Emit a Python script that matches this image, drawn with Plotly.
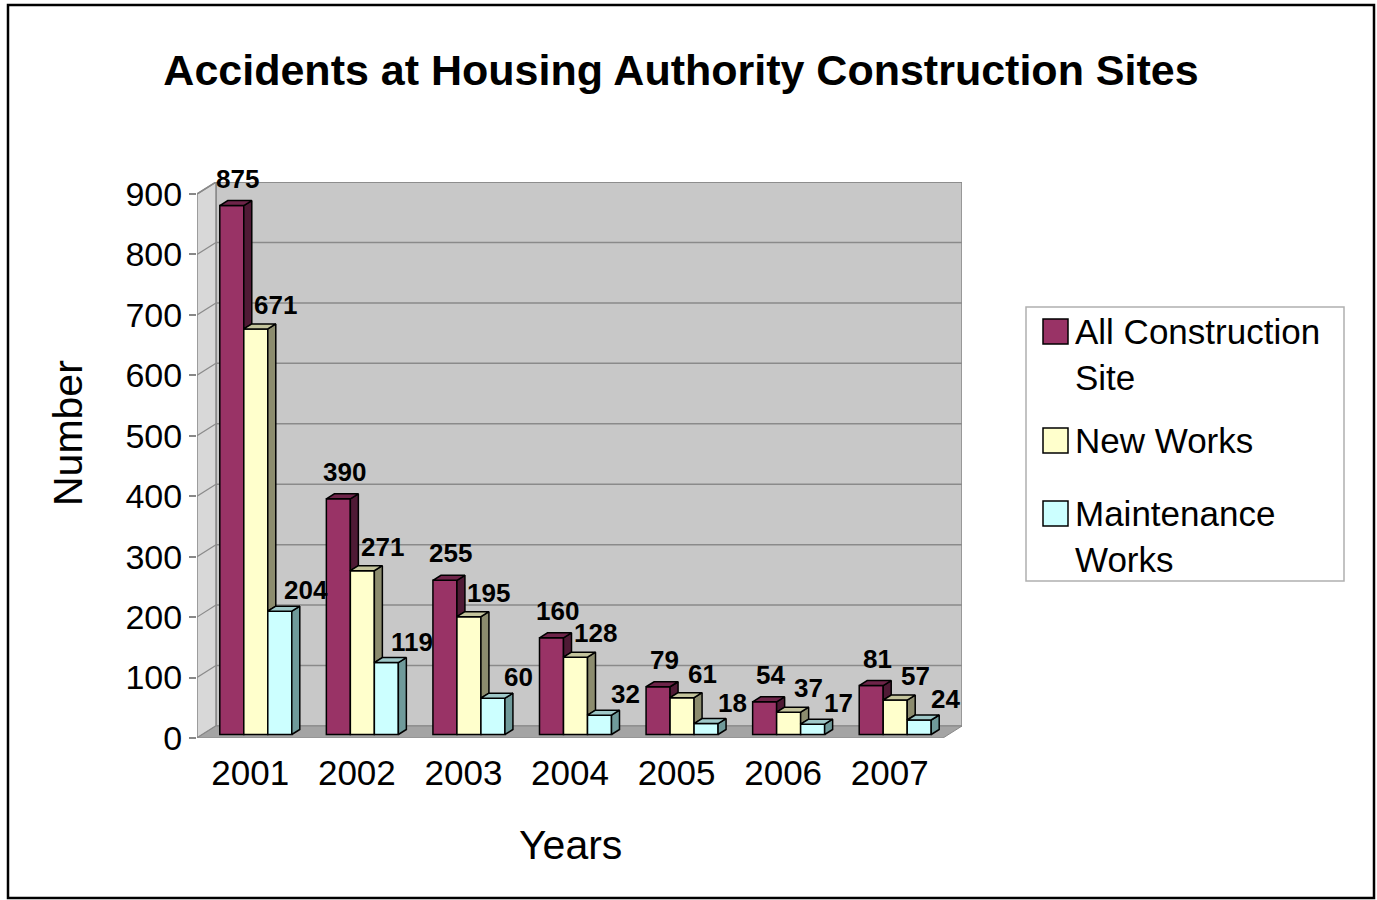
import plotly.graph_objects as go

# ---- data -------------------------------------------------------------
years = ["2001", "2002", "2003", "2004", "2005", "2006", "2007"]
all_sites = [875, 390, 255, 160, 79, 54, 81]
new_works = [671, 271, 195, 128, 61, 37, 57]
maintenance = [204, 119, 60, 32, 18, 17, 24]

series_names = ["All Construction<br>Site", "New Works", "Maintenance<br>Works"]
series_values = [all_sites, new_works, maintenance]
y_ticks = [0, 100, 200, 300, 400, 500, 600, 700, 800, 900]

# ---- styling ------------------------------------------------------------
FONT = "Arial, 'Liberation Sans', sans-serif"
front_colors = ["#993366", "#FFFFCC", "#CCFFFF"]
side_colors = ["#4f1a35", "#8c8c6e", "#6f9a9a"]
top_colors = ["#6e2449", "#c4c49c", "#9fc8c8"]

W, H = 1377, 900
L, R, T, B = 197, 962, 182, 738      # plot box in pixels (incl. depth)
DX, DY = 19, 12                     # depth of floor / walls in pixels
BDX, BDY = 8, 5                     # depth of each bar in pixels
n = len(years)
ymax = 900

ppx = (R - L - DX) / n              # pixels per category
ppy = (B - T - DY) / ymax           # pixels per unit
dxu, dyu = DX / ppx, DY / ppy       # wall depth in data units
bdxu, bdyu = BDX / ppx, BDY / ppy   # bar depth in data units
fxu = (DX - BDX) / 2 / ppx          # bars sit midway in depth
fyu = (DY - BDY) / 2 / ppy
bw = 24 / ppx                       # bar width


def px(xp):
    return (xp - L) / (R - L)


def py(yp):
    return (B - yp) / (B - T)


fig = go.Figure()
shapes = []
annotations = []

# walls and floor
shapes.append(dict(type="path", layer="below", xref="x", yref="y",
                   path=f"M{dxu},{dyu} L{n + dxu},{dyu} L{n + dxu},{ymax + dyu} L{dxu},{ymax + dyu} Z",
                   fillcolor="#c8c8c8", line=dict(color="#888888", width=1.5)))
shapes.append(dict(type="path", layer="below", xref="x", yref="y",
                   path=f"M0,0 L{dxu},{dyu} L{dxu},{ymax + dyu} L0,{ymax} Z",
                   fillcolor="#d8d8d8", line=dict(color="#888888", width=1.5)))
shapes.append(dict(type="path", layer="below", xref="x", yref="y",
                   path=f"M0,0 L{n},0 L{n + dxu},{dyu} L{dxu},{dyu} Z",
                   fillcolor="#a4a4a4", line=dict(color="#888888", width=1)))

# gridlines on back wall and side wall
for v in y_ticks[1:]:
    shapes.append(dict(type="line", layer="below", xref="x", yref="y",
                       x0=dxu, x1=n + dxu, y0=v + dyu, y1=v + dyu,
                       line=dict(color="#8a8a8a", width=1.5)))
    shapes.append(dict(type="line", layer="below", xref="x", yref="y",
                       x0=0, x1=dxu, y0=v, y1=v + dyu,
                       line=dict(color="#8a8a8a", width=1.2)))

# bars: front faces as bar traces, side and top faces as polygons
offsets = [-1.5 * bw + k * bw for k in range(3)]
centers = [i + 0.5 + fxu for i in range(n)]
label_xshift = [6, 20, 26]
label_yshift = [27, 24, 21]

for k, (name, vals) in enumerate(zip(series_names, series_values)):
    fig.add_trace(go.Bar(
        x=centers, y=vals, base=[fyu] * n, width=bw, offset=offsets[k],
        marker=dict(color=front_colors[k], line=dict(color="black", width=1.5)),
        name=name.replace("<br>", " "), showlegend=False, hoverinfo="skip"))

for k, vals in enumerate(series_values):
    sx, sy, tx, ty = [], [], [], []
    for i, v in enumerate(vals):
        xl = centers[i] + offsets[k]
        xr = xl + bw
        top = fyu + v
        if k + 1 < len(series_values):
            bottom = max(fyu, fyu + series_values[k + 1][i])
        else:
            bottom = fyu
        if top > bottom:
            sx += [xr, xr, xr + bdxu, xr + bdxu, xr, None]
            sy += [bottom, top, top + bdyu, bottom + bdyu, bottom, None]
        tx += [xl, xr, xr + bdxu, xl + bdxu, xl, None]
        ty += [top, top, top + bdyu, top + bdyu, top, None]
        annotations.append(dict(
            xref="x", yref="y", x=centers[i] + offsets[k] + bw / 2, y=top,
            text=f"<b>{v}</b>", showarrow=False, xanchor="center", yanchor="middle",
            xshift=label_xshift[k], yshift=label_yshift[k],
            font=dict(family=FONT, size=26, color="black")))
    fig.add_trace(go.Scatter(x=sx, y=sy, mode="lines", fill="toself",
                             fillcolor=side_colors[k],
                             line=dict(color="black", width=1.5),
                             showlegend=False, hoverinfo="skip"))
    fig.add_trace(go.Scatter(x=tx, y=ty, mode="lines", fill="toself",
                             fillcolor=top_colors[k],
                             line=dict(color="black", width=1.5),
                             showlegend=False, hoverinfo="skip"))

# legend box
shapes.append(dict(type="rect", xref="paper", yref="paper",
                   x0=px(1026), x1=px(1344), y0=py(581), y1=py(307),
                   fillcolor="white", line=dict(color="#b0b0b0", width=1.5)))
legend_rows = [332, 441, 514]
for k, (name, yc) in enumerate(zip(series_names, legend_rows)):
    shapes.append(dict(type="rect", xref="paper", yref="paper",
                       x0=px(1043), x1=px(1068), y0=py(yc + 12), y1=py(yc - 13),
                       fillcolor=front_colors[k], line=dict(color="black", width=1.5)))
    annotations.append(dict(
        xref="paper", yref="paper", x=px(1073), y=py(yc - 22),
        text=name, showarrow=False, xanchor="left", yanchor="top", align="left",
        font=dict(family=FONT, size=35, color="black")))

# axis titles
annotations.append(dict(xref="paper", yref="paper", x=px(570), y=py(845),
                        text="Years", showarrow=False, xanchor="center", yanchor="middle",
                        font=dict(family=FONT, size=41, color="black")))
annotations.append(dict(xref="paper", yref="paper", x=px(68), y=py(433),
                        text="Number", showarrow=False, textangle=-90,
                        xanchor="center", yanchor="middle",
                        font=dict(family=FONT, size=41, color="black")))

# outer frame
shapes.append(dict(type="rect", xref="paper", yref="paper",
                   x0=px(8), x1=px(1374), y0=py(898), y1=py(5),
                   fillcolor="rgba(0,0,0,0)", line=dict(color="black", width=2.5)))

fig.update_layout(
    width=W, height=H,
    margin=dict(l=L, r=W - R, t=T, b=H - B),
    paper_bgcolor="white", plot_bgcolor="white",
    barmode="overlay",
    showlegend=False,
    title=dict(text="<b>Accidents at Housing Authority Construction Sites</b>",
               xref="container", yref="container", x=681 / W, y=1 - 70 / H,
               xanchor="center", yanchor="middle",
               font=dict(family=FONT, size=43, color="black")),
    xaxis=dict(range=[0, n + dxu], tickvals=[i + 0.5 for i in range(n)], ticktext=years,
               showgrid=False, zeroline=False, showline=False, ticks="",
               ticklabelstandoff=11,
               tickfont=dict(family=FONT, size=35, color="black"), fixedrange=True),
    yaxis=dict(range=[0, ymax + dyu], tickvals=y_ticks, showgrid=False, zeroline=False,
               showline=False, ticks="outside", ticklen=7, tickcolor="#888888",
               tickwidth=1.5,
               tickfont=dict(family=FONT, size=34, color="black"), fixedrange=True),
    shapes=shapes,
    annotations=annotations,
)

fig.write_html("out.html")
